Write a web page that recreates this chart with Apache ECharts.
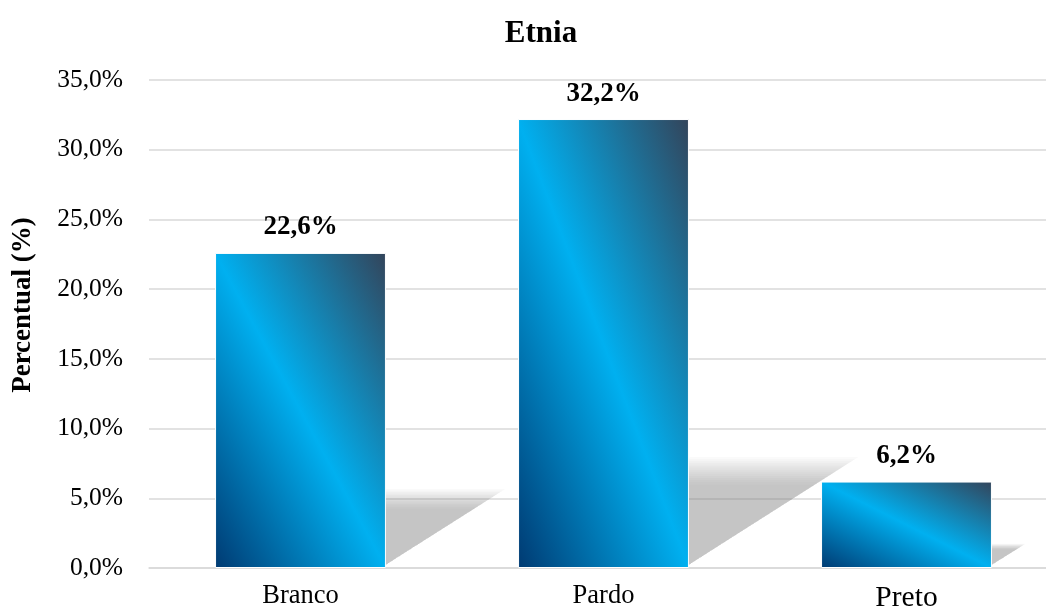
<!DOCTYPE html>
<html>
<head>
<meta charset="utf-8">
<script src="https://cdn.jsdelivr.net/npm/echarts@6/dist/echarts.min.js"></script>
<style>
html,body{margin:0;padding:0;background:#fff;}
#c{width:1046px;height:613px;}
</style>
</head>
<body>
<div id="c"></div>
<script>
const titleText = 'Etnia';
const yAxisTitle = 'Percentual (%)';
const categories = ['Branco', 'Pardo', 'Preto'];
const values = [22.6, 32.2, 6.2];
const yMin = 0, yMax = 35, yStep = 5;

const FONT = '"Liberation Serif", "Times New Roman", serif';
const fmt = v => v.toFixed(1).replace('.', ',') + '%';
const BAR_RATIO = 171 / 303;

const chart = echarts.init(document.getElementById('c'), null, {renderer: 'canvas'});

function diagGradient(w, h) {
  const L2 = w * w + h * h;
  return {
    type: 'linear',
    x: 0, y: 1,
    x2: 2 * h * h / L2,
    y2: 1 - 2 * w * w / L2,
    colorStops: [
      {offset: 0, color: '#003a72'},
      {offset: 0.5, color: '#00b0f0'},
      {offset: 1, color: '#33445a'}
    ]
  };
}

const option = {
  animation: false,
  backgroundColor: '#ffffff',
  title: {
    text: titleText,
    left: 536,
    top: 13,
    textAlign: 'center',
    textStyle: {fontFamily: FONT, fontSize: 31, fontWeight: 'bold', color: '#000'}
  },
  graphic: [{
    type: 'text',
    x: 23, y: 305,
    rotation: Math.PI / 2,
    style: {
      text: yAxisTitle,
      font: 'bold 27px ' + FONT,
      fill: '#000',
      align: 'center',
      verticalAlign: 'middle'
    }
  }],
  grid: {left: 149, top: 80, width: 909, height: 488, outerBoundsMode: 'none', containLabel: false},
  xAxis: {
    type: 'category',
    data: categories.map((c, i) => ({
      value: c,
      textStyle: {fontSize: c === 'Preto' ? 29.5 : 26.5}
    })),
    axisLine: {show: true, lineStyle: {color: '#d9d9d9', width: 1.5}},
    axisTick: {show: false},
    axisLabel: {fontFamily: FONT, color: '#000', fontSize: 26.5, margin: 15}
  },
  yAxis: {
    type: 'value',
    min: yMin, max: yMax, interval: yStep,
    axisLine: {show: false},
    axisTick: {show: false},
    splitLine: {lineStyle: {color: '#d9d9d9', width: 1.5}},
    axisLabel: {fontFamily: FONT, color: '#000', fontSize: 25.5, margin: 26, formatter: fmt}
  },
  series: [
    {
      id: 'shadows',
      type: 'custom',
      z: 1,
      silent: true,
      data: values.map((v, i) => [i, v]),
      encode: {x: 0, y: 1},
      renderItem: function (params, api) {
        const i = api.value(0), v = api.value(1);
        const base = api.coord([i, 0]);
        const top = api.coord([i, v]);
        const w = api.size([1, 0])[0] * BAR_RATIO;
        const h = base[1] - top[1];
        const left = base[0] - w / 2, right = base[0] + w / 2;
        const kx = 0.36 * h + 4, my = 0.23 * h + 2;
        const by = base[1] - 1.5;
        const layers = [];
        for (let j = 0; j < 14; j++) {
          const s = 1.04 - j * 0.02;
          layers.push({
            type: 'polygon',
            shape: {points: [[left, by], [right - 3, by], [right - 3 + kx * s, by - my * s], [left + kx * s, by - my * s]]},
            style: {fill: 'rgba(150,150,150,0.045)'}
          });
        }
        return {type: 'group', children: layers};
      }
    },
    {
      id: 'bars',
      type: 'bar',
      z: 3,
      barWidth: '56.4%',
      data: values,
      itemStyle: {color: '#00b0f0', borderColor: '#ffffff', borderWidth: 1},
      label: {
        show: true,
        position: 'top',
        distance: 12,
        fontFamily: FONT,
        fontSize: 27,
        fontWeight: 'bold',
        color: '#000',
        formatter: p => fmt(p.value)
      }
    }
  ]
};

chart.setOption(option);

const barData = values.map((v, i) => {
  const p0 = chart.convertToPixel({seriesId: 'bars'}, [i, 0]);
  const p1 = chart.convertToPixel({seriesId: 'bars'}, [i, v]);
  const h = Math.abs(p0[1] - p1[1]);
  const w = 909 / categories.length * BAR_RATIO;
  return {value: v, itemStyle: {color: diagGradient(w, h)}};
});
chart.setOption({series: [{id: 'bars', data: barData}]});
</script>
</body>
</html>
